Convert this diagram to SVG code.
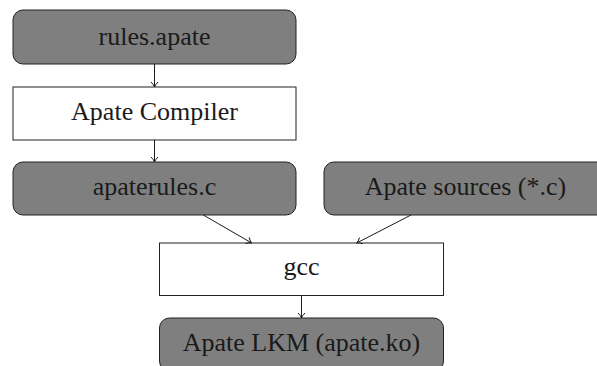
<svg xmlns="http://www.w3.org/2000/svg" width="597" height="366" viewBox="0 0 597 366">
<style>
.g{fill:#7f7f7f;stroke:#222;stroke-width:1}
.w{fill:#fff;stroke:#222;stroke-width:1}
text{font-family:"Liberation Serif","Times New Roman",serif;font-size:26px;fill:#1a1a1a;text-anchor:middle}
.c line{stroke:#1a1a1a;stroke-width:1;fill:none}
</style>
<defs>
<marker id="a" markerUnits="userSpaceOnUse" markerWidth="12" markerHeight="12" viewBox="-6 -6 12 12" refX="0" refY="0" orient="auto">
<path d="M-5,-3.5 Q-2,-0.5 0,0 Q-2,0.5 -5,3.5" fill="none" stroke="#1a1a1a" stroke-width="1"/>
</marker>
</defs>
<g id="n1"><rect class="g" x="13" y="10" width="283" height="54" rx="10"/><text x="154.5" y="45">rules.apate</text></g>
<g id="n2"><rect class="w" x="13" y="87" width="283" height="53"/><text x="154.5" y="120">Apate Compiler</text></g>
<g id="n3"><rect class="g" x="13" y="162" width="283" height="53" rx="10"/><text x="154.5" y="195">apaterules.c</text></g>
<g id="n4"><rect class="g" x="324" y="162" width="283" height="53" rx="10"/><text x="465.5" y="195">Apate sources (*.c)</text></g>
<g id="n5"><rect class="w" x="159.5" y="243" width="284" height="52.5"/><text x="301.5" y="275">gcc</text></g>
<g id="n6"><rect class="g" x="159.5" y="318" width="284" height="53" rx="10"/><text x="301.5" y="351">Apate LKM (apate.ko)</text></g>
<g class="c" id="edges">
<line x1="154.5" y1="64" x2="154.5" y2="87" marker-end="url(#a)"/>
<line x1="154.5" y1="140" x2="154.5" y2="162" marker-end="url(#a)"/>
<line x1="203.3" y1="215" x2="251.7" y2="243" marker-end="url(#a)"/>
<line x1="411" y1="215" x2="356.7" y2="243" marker-end="url(#a)"/>
<line x1="301.5" y1="295.5" x2="301.5" y2="318" marker-end="url(#a)"/>
</g>
</svg>
